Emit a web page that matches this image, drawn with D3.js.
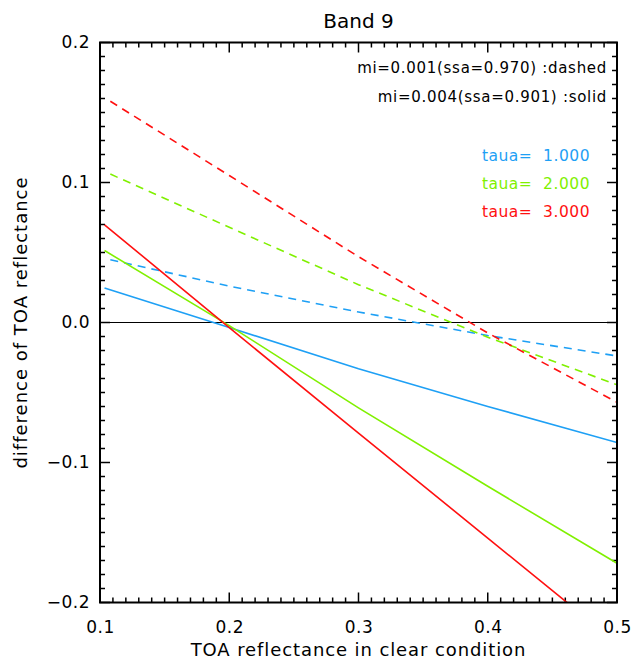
<!DOCTYPE html>
<html>
<head>
<meta charset="utf-8">
<script src="https://cdn.jsdelivr.net/npm/d3@7"></script>
<style>
  body { margin: 0; background: #fff; }
  svg text { font-family: "DejaVu Sans", sans-serif; }
</style>
</head>
<body>
<div id="chart"></div>
<script>
// x positions of the curves (solid starts a bit left of dashed)
const xSolid = [0.1035, 0.2, 0.3, 0.4, 0.5];
const xDashed = [0.108, 0.2, 0.3, 0.4, 0.5];

// mi=0.004 (solid)
const solidTau1 = [0.0246, -0.0036, -0.033, -0.060, -0.0857];
const solidTau2 = [0.0514, -0.0022, -0.061, -0.117, -0.172];
const solidTau3 = [0.0698, -0.0037, -0.079, -0.154, -0.229];

// mi=0.001 (dashed)
const dashedTau1 = [0.0448, 0.026, 0.0075, -0.0093, -0.0239];
const dashedTau2 = [0.106, 0.068, 0.027, -0.0105, -0.0445];
const dashedTau3 = [0.158, 0.105, 0.047, -0.0075, -0.057];

const tauLabels = ["taua=  1.000", "taua=  2.000", "taua=  3.000"];
const tauColors = ["#1ea0f5", "#80f000", "#ff1010"];
const xTicks = [0.1, 0.2, 0.3, 0.4, 0.5];
const yTicks = [-0.2, -0.1, 0.0, 0.1, 0.2];

const W = 632, H = 659;
const margin = {top: 42.5, right: 15, bottom: 56.5, left: 100};
const width = W - margin.left - margin.right,
    height = H - margin.top - margin.bottom;

const svg = d3.select("#chart").append("svg")
    .attr("width", W)
    .attr("height", H);

const g = svg.append("g")
    .attr("transform", "translate(" + margin.left + "," + margin.top + ")");

const x = d3.scaleLinear().domain([0.1, 0.5]).range([0, width]);
const y = d3.scaleLinear().domain([-0.2, 0.2]).range([height, 0]);

g.append("clipPath").attr("id", "plotclip")
    .append("rect").attr("width", width).attr("height", height);

//minor + major ticks, pointing inward on all four sides
const xMinor = d3.range(0, 41).map(i => 0.1 + i * 0.01);
const yMinor = d3.range(0, 41).map(i => -0.2 + i * 0.01);
const isMajor = v => Math.abs(v * 10 - Math.round(v * 10)) < 1e-6;

// bottom
g.selectAll(".xb").data(xMinor).enter().append("line")
    .attr("x1", d => x(d)).attr("x2", d => x(d))
    .attr("y1", height).attr("y2", d => height - (isMajor(d) ? 10 : 5))
    .attr("stroke", "#000").attr("stroke-width", 1.5);
// top
g.selectAll(".xt").data(xMinor).enter().append("line")
    .attr("x1", d => x(d)).attr("x2", d => x(d))
    .attr("y1", 0).attr("y2", d => isMajor(d) ? 10 : 5)
    .attr("stroke", "#000").attr("stroke-width", 1.5);
// left
g.selectAll(".yl").data(yMinor).enter().append("line")
    .attr("y1", d => y(d)).attr("y2", d => y(d))
    .attr("x1", 0).attr("x2", d => isMajor(d) ? 10 : 5)
    .attr("stroke", "#000").attr("stroke-width", 1.5);
// right
g.selectAll(".yr").data(yMinor).enter().append("line")
    .attr("y1", d => y(d)).attr("y2", d => y(d))
    .attr("x1", width).attr("x2", d => width - (isMajor(d) ? 10 : 5))
    .attr("stroke", "#000").attr("stroke-width", 1.5);

//tick labels via d3 axes
const xAx = g.append("g").attr("transform", "translate(0," + height + ")")
    .call(d3.axisBottom(x).tickValues(xTicks).tickSize(0).tickPadding(18)
        .tickFormat(d3.format(".1f")));
xAx.select(".domain").remove();
xAx.selectAll("text").style("font-size", "17px").attr("fill", "#000")
    .style("letter-spacing", "0.5px")
    .attr("font-family", "DejaVu Sans");

const yAx = g.append("g")
    .call(d3.axisLeft(y).tickValues(yTicks).tickSize(0).tickPadding(10)
        .tickFormat(d => d3.format(".1f")(d).replace("-", "\u2212")));
yAx.select(".domain").remove();
yAx.selectAll("text").style("font-size", "17px").attr("fill", "#000")
    .style("letter-spacing", "0.5px")
    .attr("font-family", "DejaVu Sans");

//zero line
g.append("line")
    .attr("x1", 0).attr("x2", width)
    .attr("y1", y(0)).attr("y2", y(0))
    .attr("stroke", "#000").attr("stroke-width", 1);

//curves
const line = d3.line().x(d => x(d[0])).y(d => y(d[1]));
const curves = [
    {xs: xDashed, ys: dashedTau1, c: 0, dash: true},
    {xs: xDashed, ys: dashedTau2, c: 1, dash: true},
    {xs: xDashed, ys: dashedTau3, c: 2, dash: true},
    {xs: xSolid, ys: solidTau1, c: 0, dash: false},
    {xs: xSolid, ys: solidTau2, c: 1, dash: false},
    {xs: xSolid, ys: solidTau3, c: 2, dash: false}
];
g.append("g").attr("clip-path", "url(#plotclip)")
    .selectAll("path").data(curves).enter().append("path")
    .attr("d", d => line(d.xs.map((v, i) => [v, d.ys[i]])))
    .attr("fill", "none")
    .attr("stroke", d => tauColors[d.c])
    .attr("stroke-width", 1.6)
    .attr("stroke-dasharray", d => d.dash ? "8,6" : null);

//frame
g.append("rect")
    .attr("width", width).attr("height", height)
    .attr("fill", "none").attr("stroke", "#000").attr("stroke-width", 2);

//annotations
g.append("text").attr("x", width - 10).attr("y", 30)
    .attr("text-anchor", "end").style("font-size", "15px")
    .style("letter-spacing", "0.7px")
    .text("mi=0.001(ssa=0.970) :dashed");
g.append("text").attr("x", width - 10).attr("y", 59)
    .attr("text-anchor", "end").style("font-size", "15px")
    .style("letter-spacing", "0.7px")
    .text("mi=0.004(ssa=0.901) :solid");

g.selectAll(".tau").data(tauLabels).enter().append("text")
    .attr("x", width - 27)
    .attr("y", (d, i) => 118 + i * 28)
    .attr("text-anchor", "end")
    .style("font-size", "15.5px")
    .style("letter-spacing", "0.5px")
    .style("white-space", "pre")
    .attr("xml:space", "preserve")
    .attr("fill", (d, i) => tauColors[i])
    .text(d => d);

//titles
svg.append("text")
    .attr("x", margin.left + width / 2).attr("y", 28)
    .attr("text-anchor", "middle").style("font-size", "20px")
    .text("Band 9");

svg.append("text")
    .attr("x", margin.left + width / 2).attr("y", 656)
    .attr("text-anchor", "middle").style("font-size", "18px")
    .style("letter-spacing", "0.9px")
    .text("TOA reflectance in clear condition");

svg.append("text")
    .attr("transform", "translate(27," + (margin.top + height / 2) + ") rotate(-90)")
    .attr("text-anchor", "middle").style("font-size", "18px")
    .style("letter-spacing", "1px")
    .text("difference of TOA reflectance");
</script>
</body>
</html>
